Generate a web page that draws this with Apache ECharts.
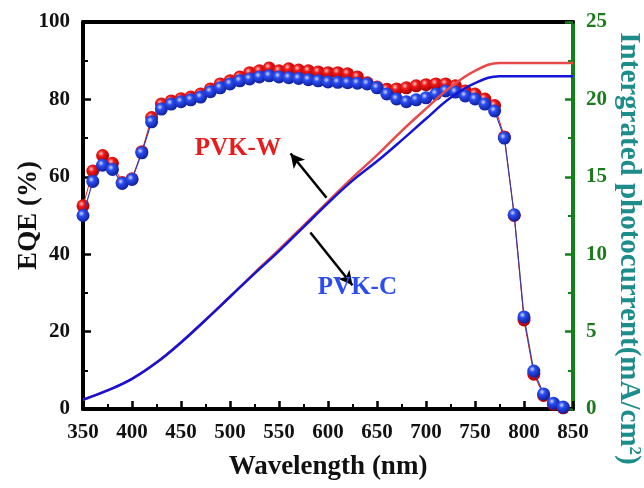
<!DOCTYPE html>
<html>
<head>
<meta charset="utf-8">
<script src="https://cdn.jsdelivr.net/npm/echarts@6/dist/echarts.min.js"></script>
<style>html,body{margin:0;padding:0;background:#fff}#c{width:644px;height:488px}</style>
</head>
<body>
<div id="c"></div>
<script>
// EQE wavelengths (nm)
var eqeWavelength = [350,360,370,380,390,400,410,420,430,440,450,460,470,480,490,500,510,520,530,540,550,560,570,580,590,600,610,620,630,640,650,660,670,680,690,700,710,720,730,740,750,760,770,780,790,800,810,820,830,840];
var eqeW = [52.5,61.5,65.5,63.5,58.5,59.5,66.5,75.3,78.8,79.6,80.2,80.6,81.4,82.7,84.0,84.8,85.8,86.9,87.4,88.1,87.4,87.9,87.6,87.4,87.1,86.9,86.9,86.6,85.8,84.3,83.2,82.6,82.7,83.0,83.5,83.8,84.0,84.0,83.5,82.2,81.4,80.1,78.4,70.3,50.0,23.0,9.0,3.5,1.2,0.3];
var eqeC = [50.0,58.8,63.0,61.9,58.3,59.3,66.2,74.2,77.5,78.8,79.4,79.9,80.6,82.0,83.0,84.0,84.8,85.3,85.8,86.1,85.8,85.6,85.4,85.1,84.8,84.5,84.4,84.3,84.2,84.0,83.0,81.4,80.1,79.4,79.9,80.4,81.4,82.2,81.9,80.9,80.1,78.8,77.0,70.0,50.2,23.8,9.8,3.9,1.5,0.5];
// Integrated photocurrent (mA/cm2)
var jWavelength = [350,375,400,425,450,475,500,525,550,575,600,625,650,675,700,725,750,775,800,825,850];
var jW = [0.6,1.2,1.95,3.0,4.3,5.75,7.25,8.8,10.3,11.85,13.4,14.95,16.4,17.95,19.4,20.8,21.85,22.35,22.35,22.35,22.35];
var jC = [0.6,1.2,1.95,3.0,4.3,5.75,7.25,8.75,10.2,11.75,13.3,14.75,16.0,17.35,18.75,20.1,21.05,21.5,21.5,21.5,21.5];
var xTicks = {min:350, max:850, interval:50};
var yLeftTicks = {min:0, max:100, interval:20};
var yRightTicks = {min:0, max:25, interval:5};
var labelW = {text:'PVK-W', x:508, y:67.3};
var labelC = {text:'PVK-C', x:630, y:31.4};
var arrows = [[[598.5,54.6],[561.8,66.0]],[[582,45.6],[625,32.0]]];

function pairs(xs, ys){ return xs.map(function(x,i){ return [x, ys[i]]; }); }
var serif = '"Liberation Serif","Times New Roman",serif';
function ball(light, mid, dark){
  return {type:'radial', x:0.38, y:0.35, r:0.65, colorStops:[
    {offset:0,color:light},{offset:0.35,color:mid},{offset:1,color:dark}]};
}
var chart = echarts.init(document.getElementById('c'), null, {renderer:'canvas'});
chart.setOption({
  animation:false,
  grid:{left:83, right:71, top:22, bottom:79, containLabel:false, outerBoundsMode:'none'},
  xAxis:[{
    type:'value', min:xTicks.min, max:xTicks.max, interval:xTicks.interval,
    name:'Wavelength (nm)', nameLocation:'middle', nameGap:45, nameMoveOverlap:false,
    nameTextStyle:{fontFamily:serif, fontWeight:'bold', fontSize:27, color:'#111'},
    axisLine:{show:true, onZero:false, lineStyle:{color:'#000', width:4}},
    axisTick:{show:true, inside:true, length:8, lineStyle:{color:'#000', width:2.5}},
    minorTick:{show:true, splitNumber:2, length:5, lineStyle:{color:'#000', width:2}},
    axisLabel:{fontFamily:serif, fontWeight:'bold', fontSize:21, color:'#111', margin:13},
    splitLine:{show:false}
  },{
    type:'value', position:'top', min:xTicks.min, max:xTicks.max,
    axisLine:{show:true, onZero:false, lineStyle:{color:'#000', width:4}},
    axisTick:{show:false}, axisLabel:{show:false}, splitLine:{show:false}
  }],
  yAxis:[{
    type:'value', position:'left', min:yLeftTicks.min, max:yLeftTicks.max, interval:yLeftTicks.interval,
    name:'EQE (%)', nameLocation:'middle', nameGap:40, nameMoveOverlap:false,
    nameTextStyle:{fontFamily:serif, fontWeight:'bold', fontSize:27, color:'#111'},
    axisLine:{show:true, onZero:false, lineStyle:{color:'#000', width:4}},
    axisTick:{show:true, inside:true, length:8, lineStyle:{color:'#000', width:2.5}},
    minorTick:{show:true, splitNumber:2, length:5, lineStyle:{color:'#000', width:2}},
    axisLabel:{fontFamily:serif, fontWeight:'bold', fontSize:21, color:'#111', margin:13},
    splitLine:{show:false}
  },{
    type:'value', position:'right', min:yRightTicks.min, max:yRightTicks.max, interval:yRightTicks.interval,
    name:'Intergrated photocurrent(mA/cm{sup|2})', nameLocation:'middle', nameGap:40, nameRotate:-90, nameMoveOverlap:false,
    nameTextStyle:{fontFamily:serif, fontWeight:'bold', fontSize:29, color:'#1f8c8c', padding:[0,0,0,66],
      rich:{sup:{fontFamily:serif, fontWeight:'bold', fontSize:17, color:'#1f8c8c', padding:[0,0,13,0]}}},
    axisLine:{show:true, onZero:false, lineStyle:{color:'#14801a', width:4}},
    axisTick:{show:true, inside:true, length:8, lineStyle:{color:'#14801a', width:2.5}},
    minorTick:{show:true, splitNumber:2, length:5, lineStyle:{color:'#14801a', width:2}},
    axisLabel:{fontFamily:serif, fontWeight:'bold', fontSize:21, color:'#1b7a1b', margin:13},
    splitLine:{show:false}
  }],
  series:[{
    name:'PVK-W EQE', type:'line', yAxisIndex:0, data:pairs(eqeWavelength, eqeW),
    symbol:'circle', symbolSize:13, z:3,
    itemStyle:{color:ball('#ffc8c8','#f01818','#a80000')},
    lineStyle:{color:'#e02020', width:1}
  },{
    name:'PVK-C EQE', type:'line', yAxisIndex:0, data:pairs(eqeWavelength, eqeC),
    symbol:'circle', symbolSize:13, z:4,
    itemStyle:{color:ball('#d0d8ff','#2a4cf0','#1020a0')},
    lineStyle:{color:'#3a3aa8', width:1.2},
    markLine:{silent:true, symbol:['none','arrow'], symbolSize:[11,14],
      label:{show:false}, lineStyle:{color:'#000', width:2.5, type:'solid'},
      data:arrows.map(function(a){ return [{coord:a[0]},{coord:a[1]}]; })}
  },{
    name:'PVK-W J', type:'line', yAxisIndex:1, data:pairs(jWavelength, jW),
    symbol:'none', smooth:0.4, z:5, lineStyle:{color:'#e84a4a', width:2.5}
  },{
    name:'PVK-C J', type:'line', yAxisIndex:1, data:pairs(jWavelength, jC),
    symbol:'none', smooth:0.4, z:5, lineStyle:{color:'#1414d8', width:2.5}
  }]
});
function placeText(lbl, color){
  var p = chart.convertToPixel({xAxisIndex:0, yAxisIndex:0}, [lbl.x, lbl.y]);
  return {type:'text', x:p[0], y:p[1], z:10, style:{text:lbl.text, fill:color,
    font:'bold 25px ' + serif, textAlign:'center', textVerticalAlign:'middle'}};
}
chart.setOption({graphic:[placeText(labelW,'#e81c1c'), placeText(labelC,'#2a4cf0')]});
</script>
</body>
</html>
